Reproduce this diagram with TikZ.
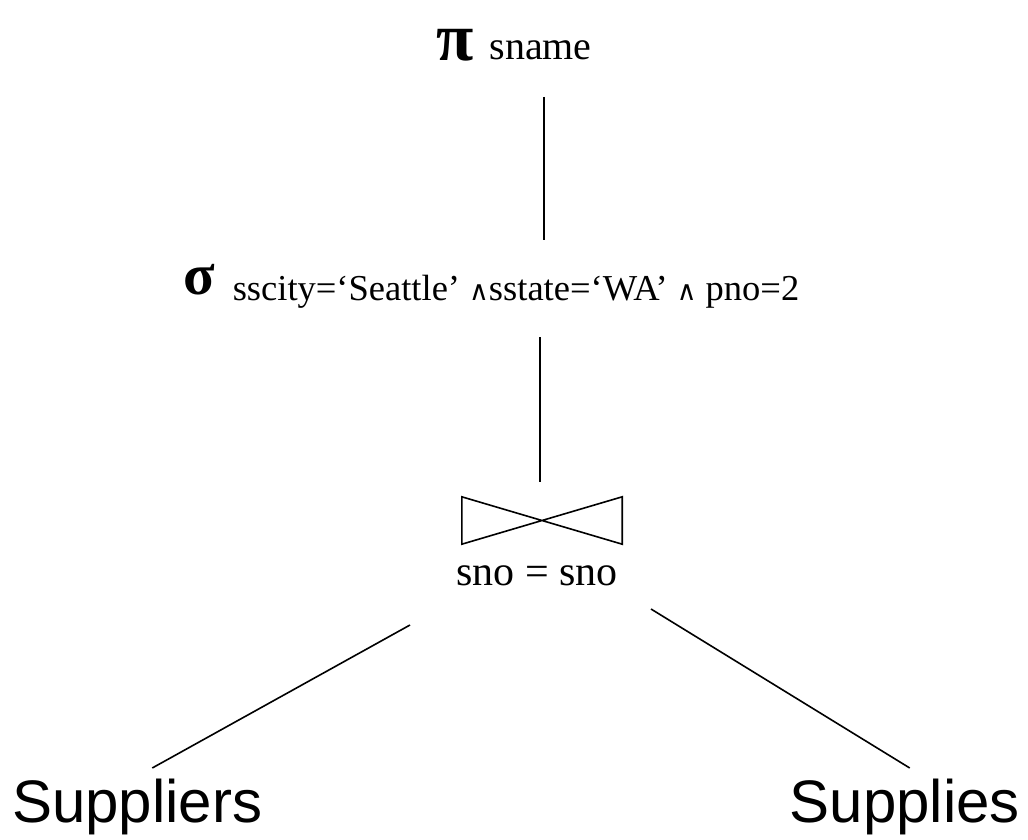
\documentclass[tikz,border=0pt]{standalone}
\usepackage{fontspec}
\setmainfont{Liberation Serif}
\newfontfamily\relfont{Liberation Sans}
\newfontfamily\andfont{DejaVu Serif}
\usetikzlibrary{calc, positioning}
\tikzset{
  edge/.style={draw, line width=1.6pt}, % connectors of the plan
  op/.style={inner sep=0pt, font=\fontsize{36.5}{40}\selectfont}, % operator texts
  rel/.style={inner sep=0pt, font=\relfont\fontsize{60}{66}\selectfont}, % relations
}
\newcommand{\andsym}{{\andfont\fontsize{27}{27}\selectfont ∧}}

\begin{document}
\begin{tikzpicture}[x=1pt, y=-1pt]
    \useasboundingbox (0,0) rectangle (1028,840);

    \node[op, anchor=base west] (proj) at (436,60)
      {\raisebox{-1pt}{\fontsize{68}{68}\selectfont\bfseries π}\hspace{16pt}{\fontsize{40}{44}\selectfont sname}};
    \node[op, anchor=base west] (sel) at (183,300)
      {\raisebox{6pt}{\fontsize{58}{58}\selectfont\bfseries σ}\hspace{18pt}sscity=‘Seattle’ \andsym sstate=‘WA’ \andsym{} pno=2};

    \node[minimum width=160pt, minimum height=47pt, inner sep=0pt] (join) at (542,520.5) {};
    \draw[edge, line join=miter] (join.north west) -- (join.south east) -- (join.north east)
      -- (join.south west) -- cycle;
    \node[op, anchor=base, font=\fontsize{42}{46}\selectfont] (cond) at (537,585) {sno = sno};

    \node[rel, anchor=base west] (suppliers) at (12,822) {Suppliers};
    \node[rel, anchor=base east] (supplies) at (1020,822) {Supplies};

    \draw[edge] ($(join |- proj.base)+(2,37)$) -- ($(join |- sel.base)+(2,-60)$);
    \draw[edge] ($(join |- sel.base)+(-2,37)$) -- ($(join.north)+(-2,-15)$);
    \draw[edge] ($(cond.base)+(-127,40)$) -- ($(suppliers.base)+(15,-54)$);
    \draw[edge] ($(cond.base)+(114,24)$) -- ($(supplies.base)+(5,-54)$);
\end{tikzpicture}
\end{document}
